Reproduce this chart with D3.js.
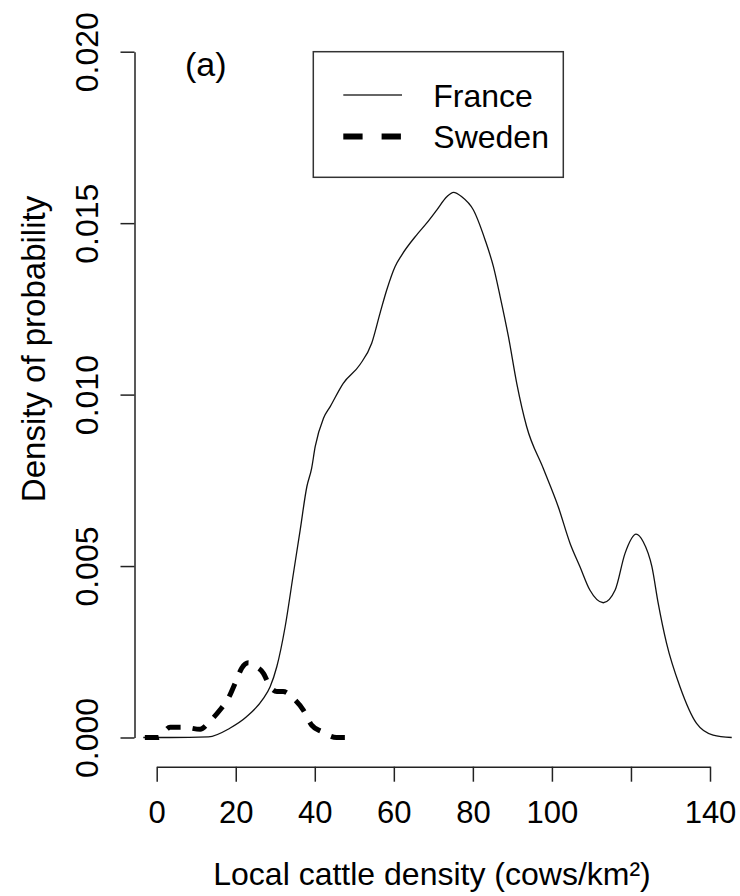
<!DOCTYPE html>
<html>
<head>
<meta charset="utf-8">
<script src="https://cdn.jsdelivr.net/npm/d3@7"></script>
<style>
  body { margin: 0; background: #fff; }
  text { font-family: "Liberation Sans", Arial, sans-serif; fill: #000; }
</style>
</head>
<body>
<svg id="chart" width="740" height="896"></svg>
<script>
// values
var franceX = [-3.4, 3.4, 13.1, 18.5, 22.8, 27.0, 28.7, 30.4, 32.5, 34.6, 36.3, 38.0, 39.2, 40.1, 42.2, 43.9, 47.2, 51.4, 54.4, 56.5, 58.2, 60.3, 62.0, 65.8, 68.3, 70.9, 73.4, 75.1, 77.2, 80.1, 83.1, 85.2, 86.9, 89.0, 91.1, 93.6, 97.8, 101.6, 104.6, 107.1, 109.6, 113.0, 116.0, 118.5, 121.3, 123.1, 125.3, 126.9, 129.0, 132.4, 136.6, 140.8, 145.5]
var franceY = [0, 0, 0.00002, 0.00027, 0.00061, 0.00114, 0.00148, 0.00207, 0.00323, 0.00479, 0.00605, 0.00732, 0.00785, 0.00848, 0.00931, 0.00965, 0.01033, 0.01087, 0.0115, 0.01237, 0.01305, 0.01373, 0.01407, 0.01466, 0.015, 0.01539, 0.01577, 0.0159, 0.01577, 0.01539, 0.01451, 0.01373, 0.01286, 0.01169, 0.01033, 0.00907, 0.00785, 0.00673, 0.00566, 0.00498, 0.0043, 0.00393, 0.0043, 0.00537, 0.00593, 0.00571, 0.00498, 0.00391, 0.00275, 0.00148, 0.00041, 0.00007, 0]

var swedenX = [-3.0, 0.4, 3.4, 6.7, 11.0, 13.5, 16.0, 18.1, 20.2, 21.5, 23.2, 24.4, 27.0, 28.7, 30.4, 32.0, 34.6, 37.1, 39.2, 41.8, 45.5, 49.3]
var swedenY = [0, 0, 0.0003, 0.0003, 0.00024, 0.00048, 0.0008, 0.00114, 0.00168, 0.00202, 0.00218, 0.00211, 0.00187, 0.00148, 0.00134, 0.00134, 0.00114, 0.0008, 0.00036, 0.00017, 0, 0]

var xTicks = [0, 20, 40, 60, 80, 100, 120, 140]
var xTickLabels = ["0", "20", "40", "60", "80", "100", "", "140"]
var yTicks = [0, 0.005, 0.010, 0.015, 0.020]
var yTickLabels = ["0.000", "0.005", "0.010", "0.015", "0.020"]

var seriesNames = ["France", "Sweden"]

var svg = d3.select("#chart")

var x = d3.scaleLinear()
    .domain([0, 140])
    .range([156.7, 710])

var y = d3.scaleLinear()
    .domain([0, 0.02])
    .range([737.5, 51.7])

var axisX = 134.5, axisY = 766.7

// y axis
var gy = svg.append("g")
    .attr("transform", "translate(" + axisX + ",0)")
    .call(d3.axisLeft(y)
        .tickValues(yTicks)
        .tickSize(14)
        .tickSizeOuter(0)
        .tickFormat((d, i) => yTickLabels[i]))
gy.selectAll("path, line").attr("stroke", "#222").attr("stroke-width", 1.5)
gy.selectAll("text")
    .attr("transform", "rotate(-90)")
    .attr("x", 0)
    .attr("y", -36.5)
    .attr("dy", 0)
    .attr("text-anchor", "middle")
    .style("font-size", "32px")
    .style("font-family", "'Liberation Sans', Arial, sans-serif")
    .attr("fill", "#000")

// x axis
var gx = svg.append("g")
    .attr("transform", "translate(0," + axisY + ")")
    .call(d3.axisBottom(x)
        .tickValues(xTicks)
        .tickSize(15)
        .tickSizeOuter(0)
        .tickFormat((d, i) => xTickLabels[i]))
gx.selectAll("path, line").attr("stroke", "#222").attr("stroke-width", 1.5)
gx.selectAll("text")
    .attr("y", 56.5)
    .attr("dy", 0)
    .style("font-size", "31px")
    .style("font-family", "'Liberation Sans', Arial, sans-serif")
    .attr("fill", "#000")

// axis titles
svg.append("text")
    .attr("x", 432)
    .attr("y", 885)
    .attr("text-anchor", "middle")
    .style("font-size", "32px")
    .text("Local cattle density (cows/km²)")

svg.append("text")
    .attr("transform", "translate(45,349) rotate(-90)")
    .attr("text-anchor", "middle")
    .style("font-size", "33px")
    .text("Density of probability")

svg.append("text")
    .attr("x", 185)
    .attr("y", 76)
    .style("font-size", "34px")
    .text("(a)")

// curves
var line = d3.line()
    .x(d => x(d[0]))
    .y(d => y(d[1]))
    .curve(d3.curveMonotoneX)

svg.append("path")
    .datum(d3.zip(franceX, franceY))
    .attr("d", line)
    .attr("fill", "none")
    .attr("stroke", "#111")
    .attr("stroke-width", 1.3)

svg.append("path")
    .datum(d3.zip(swedenX, swedenY))
    .attr("d", line)
    .attr("fill", "none")
    .attr("stroke", "#000")
    .attr("stroke-width", 5)
    .attr("stroke-dasharray", "14,12")

// legend
var legend = svg.append("g")

legend.append("rect")
    .attr("x", 313.3)
    .attr("y", 51.7)
    .attr("width", 250)
    .attr("height", 125.6)
    .attr("fill", "none")
    .attr("stroke", "#333")
    .attr("stroke-width", 1.5)

var legendRows = [95, 136.5]
seriesNames.forEach((name, i) => {
    legend.append("line")
        .attr("x1", 343.3)
        .attr("x2", 402)
        .attr("y1", legendRows[i])
        .attr("y2", legendRows[i])
        .attr("stroke", i == 0 ? "#333" : "#000")
        .attr("stroke-width", i == 0 ? 1.5 : 6)
        .attr("stroke-dasharray", i == 0 ? null : "19.3,19")
    legend.append("text")
        .attr("x", 433.3)
        .attr("y", legendRows[i] + 11.5)
        .style("font-size", "32px")
        .text(name)
})
</script>
</body>
</html>
